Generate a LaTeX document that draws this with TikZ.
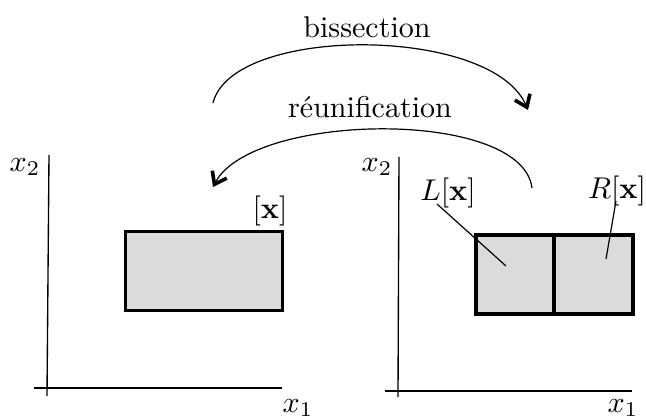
\documentclass[tikz,border=0pt]{standalone}
\usetikzlibrary{arrows.meta}
\tikzset{
	axis/.style={line width=0.45pt},
	boxfill/.style={draw,line width=1.1pt,fill=black!14,inner sep=0pt,outer sep=0pt},
	leader/.style={line width=0.4pt},
	swing/.style={line width=0.4pt,-{Straight Barb[length=1.3mm,width=1.9mm,line width=1.2pt]}},
}
\begin{document}
\begin{tikzpicture}[x=0.333pt,y=-0.333pt]
	\useasboundingbox (0,0) rectangle (646,418);
	% left panel: the box [x]
	\coordinate (ly) at (49,155);
	\coordinate (lx) at (282,388);
	\draw[axis] (ly) -- (47,396);
	\draw[axis] (34,388) -- (lx);
	\node (lx2) at (25,167) {$x_2$};
	\node (lx1) at (298,408) {$x_1$};
	\node[boxfill,minimum width=52.3pt,minimum height=26.3pt] (X) at (204,271) {};
	\node (Xlab) at (270,211) {$[\mathbf{x}]$};
	% right panel: L[x] and R[x]
	\coordinate (ry) at (399,157);
	\coordinate (rx) at (632,391);
	\draw[axis] (ry) -- (398,397);
	\draw[axis] (385,391) -- (rx);
	\node (rx2) at (377,167) {$x_2$};
	\node (rx1) at (623,408) {$x_1$};
	\node[boxfill,minimum width=26pt,minimum height=26.3pt,anchor=north west] (L) at (476,235) {};
	\node[boxfill,minimum width=26.3pt,minimum height=26.3pt,anchor=north west] (R) at (554,235) {};
	\node (Llab) at (448,193) {$L[\mathbf{x}]$};
	\node (Rlab) at (617,191) {$R[\mathbf{x}]$};
	\coordinate (Lin) at (506,266);
	\coordinate (Rin) at (606,259);
	\draw[leader] (437,204) -- (Lin);
	\draw[leader] (616,201) -- (Rin);
	% the two arcs
	\coordinate (b0) at (213,103);
	\coordinate (b1) at (528,110);
	\coordinate (r0) at (532,188);
	\coordinate (r1) at (213,187);
	\draw[swing] (b0) .. controls (232,25) and (492,25) .. (b1);
	\draw[swing] (r0) .. controls (522,108) and (252,112) .. (r1);
	\node (bis) at (367,27) {bissection};
	\node (reu) at (370,107) {réunification};
\end{tikzpicture}
\end{document}
